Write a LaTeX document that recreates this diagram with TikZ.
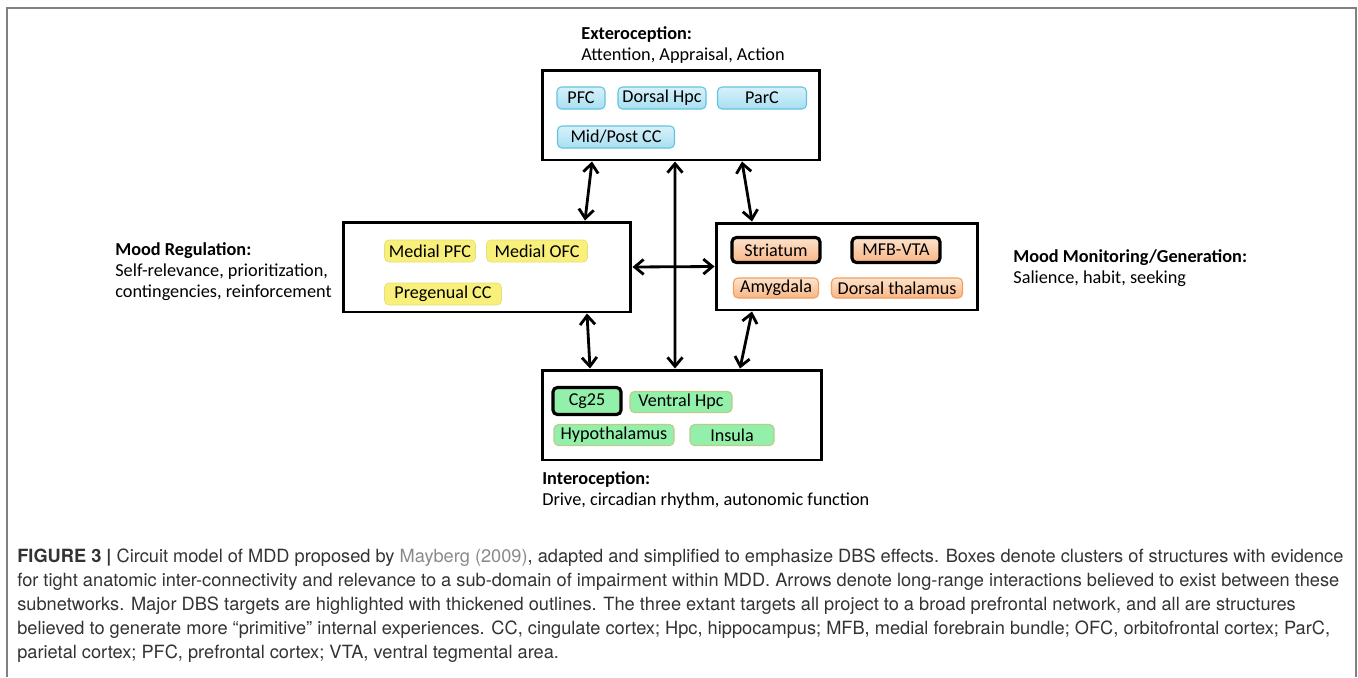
\documentclass[tikz,border=0pt]{standalone}
\usepackage{fontspec}
\setmainfont{Carlito}
\newfontfamily\capfont{TeX Gyre Heros}
\usetikzlibrary{arrows.meta}

\definecolor{blueTop}{HTML}{D6F1FA}
\definecolor{blueBot}{HTML}{A9DFF1}
\definecolor{blueLine}{HTML}{62C3E0}
\definecolor{yellowFill}{HTML}{F8F07A}
\definecolor{yellowLine}{HTML}{E6DE78}
\definecolor{orangeTop}{HTML}{FDE3CC}
\definecolor{orangeBot}{HTML}{F8B584}
\definecolor{orangeLine}{HTML}{F0A060}
\definecolor{greenFill}{HTML}{92F0AA}
\definecolor{greenLine}{HTML}{BFCB88}
\definecolor{capText}{HTML}{333333}
\definecolor{citeText}{HTML}{8A8A8A}

\tikzset{
  region/.style={draw=black, line width=1.7pt, inner sep=0pt},
  part/.style={rounded corners=2.5pt, inner sep=0pt, minimum height=0.44cm, font=\fontsize{10.3}{12}\selectfont},
  ext/.style={part, top color=blueTop, bottom color=blueBot, draw=blueLine, line width=0.6pt},
  reg/.style={part, fill=yellowFill, draw=yellowLine, line width=0.4pt},
  mon/.style={part, top color=orangeTop, bottom color=orangeBot, draw=orangeLine, line width=0.6pt},
  int/.style={part, fill=greenFill, draw=greenLine, line width=0.6pt},
  target/.style={draw=black, line width=1.8pt},
  heading/.style={anchor=west, align=left, inner sep=0pt, font=\fontsize{10.4}{12}\selectfont},
  link/.style={{Straight Barb[length=1.8mm,width=3mm]}-{Straight Barb[length=1.8mm,width=3mm]}, line width=1.6pt}
}

\begin{document}
\begin{tikzpicture}[x=0.02cm, y=-0.02cm]
	\useasboundingbox (0,0) rectangle (1358,677);
	\draw[gray, line width=1.1pt] (7,677) -- (7,8) -- (1356,8) -- (1356,677);

	% the four clusters
	\node[region, minimum width=5.56cm, minimum height=1.8cm] (ext) at (681, 115) {};
	\node[region, minimum width=5.76cm, minimum height=1.8cm] (reg) at (487, 267) {};
	\node[region, minimum width=5.24cm, minimum height=1.74cm] (mon) at (847, 266.5) {};
	\node[region, minimum width=5.6cm, minimum height=1.8cm] (int) at (682, 415) {};

	% exteroception
	\node[ext, minimum width=0.96cm] (pfc) at (581, 98) {PFC};
	\node[ext, minimum width=1.76cm] (dhpc) at (662, 98) {Dorsal Hpc};
	\node[ext, minimum width=1.78cm] (parc) at (762, 98) {ParC};
	\node[ext, minimum width=2.34cm] (mpcc) at (616, 137) {Mid/Post CC};

	% mood regulation
	\node[reg, minimum width=1.82cm] (mpfc) at (430, 251) {Medial PFC};
	\node[reg, minimum width=2.02cm] (mofc) at (537, 251) {Medial OFC};
	\node[reg, minimum width=2.34cm] (pgcc) at (443, 294) {Pregenual CC};

	% mood monitoring
	\node[mon, target, minimum width=1.76cm, minimum height=0.5cm] (str) at (776, 250) {Striatum};
	\node[mon, target, minimum width=1.76cm, minimum height=0.5cm] (mfb) at (896, 250) {MFB-VTA};
	\node[mon, minimum width=1.7cm, minimum height=0.4cm] (amy) at (776, 288) {Amygdala};
	\node[mon, minimum width=2.62cm, minimum height=0.4cm] (dth) at (897, 288) {Dorsal thalamus};

	% interoception
	\node[int, target, minimum width=1.36cm, minimum height=0.54cm] (cg) at (587, 401) {Cg25};
	\node[int, minimum width=2.04cm, minimum height=0.42cm] (vhpc) at (681, 402) {Ventral Hpc};
	\node[int, minimum width=2.4cm, minimum height=0.42cm] (hyp) at (614, 435) {Hypothalamus};
	\node[int, minimum width=1.68cm, minimum height=0.42cm] (ins) at (732, 435) {Insula};

	% headings
	\node[heading] (extlab) at (581, 45.5) {\textbf{Exteroception:}\\Attention, Appraisal, Action};
	\node[heading] (reglab) at (115, 272) {\textbf{Mood Regulation:}\\Self-relevance, prioritization,\\contingencies, reinforcement};
	\node[heading] (monlab) at (1013, 268) {\textbf{Mood Monitoring/Generation:}\\Salience, habit, seeking};
	\node[heading] (intlab) at (542, 490) {\textbf{Interoception:}\\Drive, circadian rhythm, autonomic function};

	% interactions
	\path[link] ([xshift=-1.78cm]ext.south) edge ([xshift=1.96cm]reg.north);
	\path[link] ([xshift=1.22cm]ext.south) edge ([xshift=-1.9cm]mon.north);
	\path[link] ([xshift=-0.12cm]ext.south) edge ([xshift=-0.14cm]int.north);
	\path[link] (reg.east) edge (mon.west);
	\path[link] ([xshift=2cm]reg.south) edge ([xshift=-1.84cm]int.north);
	\path[link] ([xshift=-1.9cm]mon.south) edge ([xshift=1.16cm]int.north);

	% caption
	\node[anchor=west, align=left, inner sep=0pt, text=capText, font=\capfont\fontsize{10.37}{13.7}\selectfont] (caption) at (17, 606)
	{\textbf{FIGURE 3 |} Circuit model of MDD proposed by \textcolor{citeText}{Mayberg (2009)}, adapted and simplified to emphasize DBS effects. Boxes denote clusters of structures with evidence\\
	for tight anatomic inter-connectivity and relevance to a sub-domain of impairment within MDD. Arrows denote long-range interactions believed to exist between these\\
	subnetworks. Major DBS targets are highlighted with thickened outlines. The three extant targets all project to a broad prefrontal network, and all are structures\\
	believed to generate more “primitive” internal experiences. CC, cingulate cortex; Hpc, hippocampus; MFB, medial forebrain bundle; OFC, orbitofrontal cortex; ParC,\\
	parietal cortex; PFC, prefrontal cortex; VTA, ventral tegmental area.};
\end{tikzpicture}
\end{document}
